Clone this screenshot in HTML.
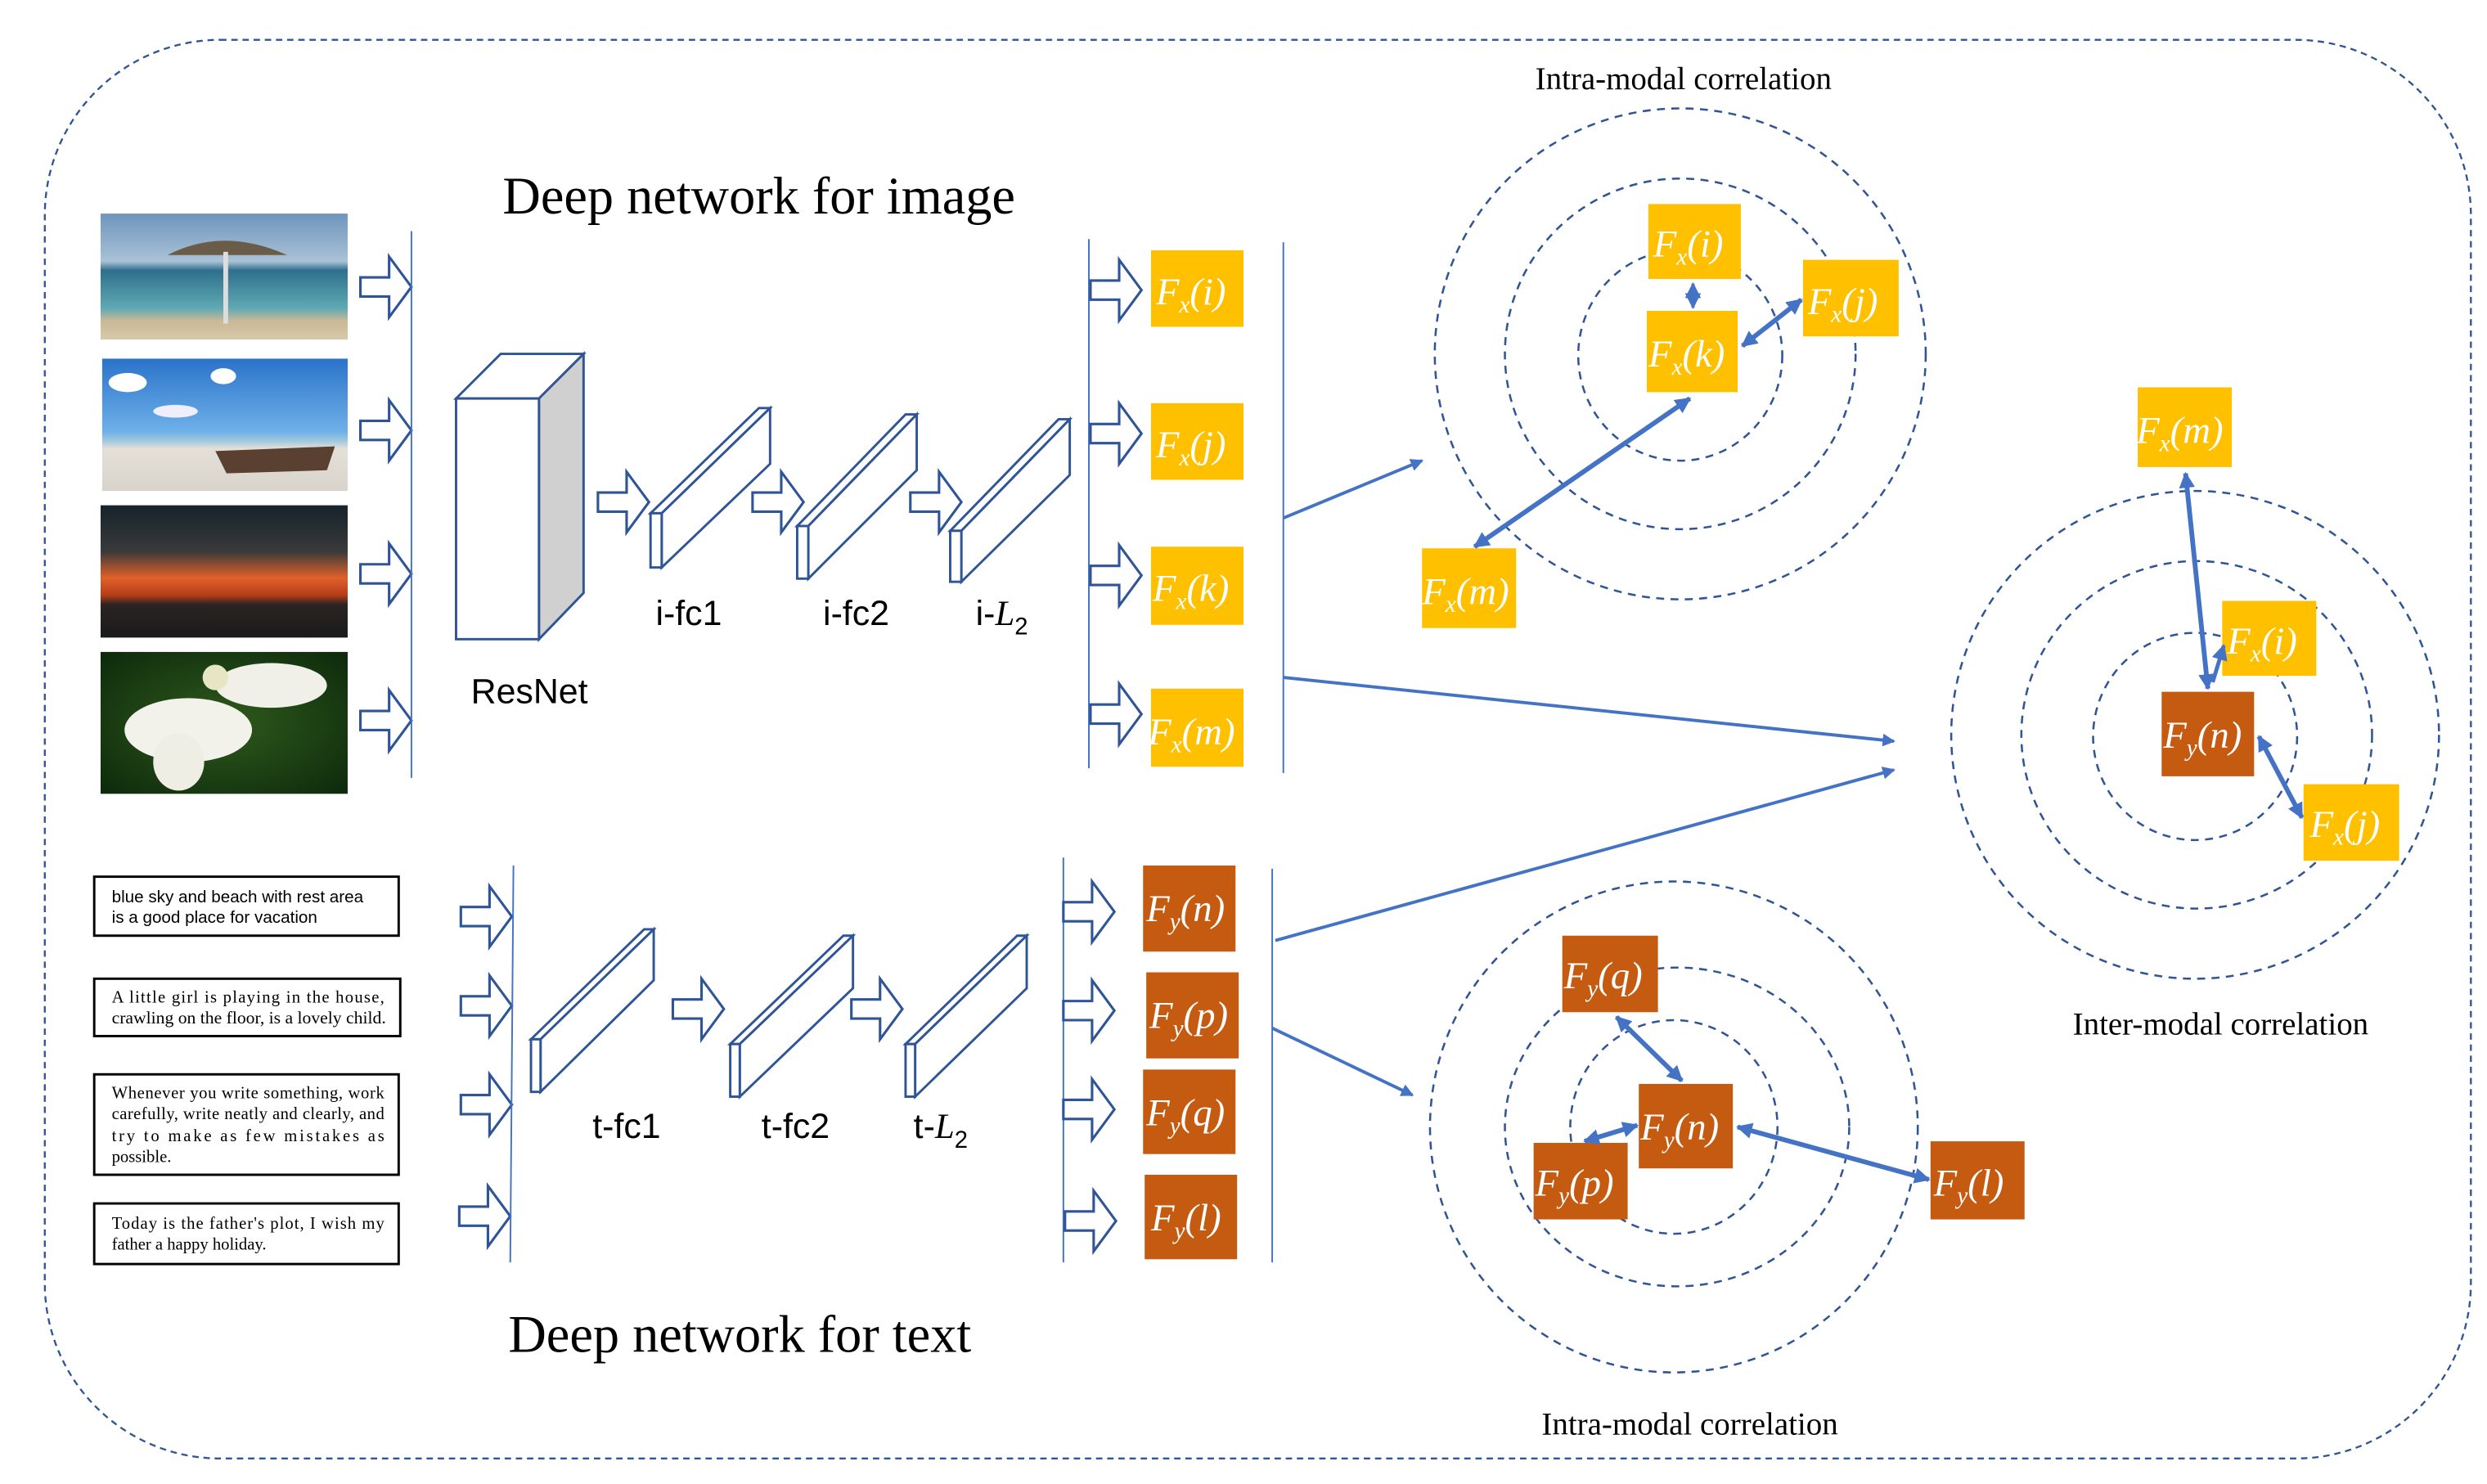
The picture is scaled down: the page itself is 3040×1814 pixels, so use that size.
<!DOCTYPE html>
<html><head><meta charset="utf-8">
<style>
html,body{margin:0;padding:0;background:#fff;}
svg{display:block;}
.m{font-family:"Liberation Serif",serif;font-style:italic;fill:#fff;font-size:24px;}
.s{font-size:15px;}
.lab{font-family:"Liberation Sans",sans-serif;font-size:22px;fill:#000;}
.ttl{font-family:"Liberation Serif",serif;font-size:33px;fill:#000;}
.cap{font-family:"Liberation Serif",serif;font-size:20px;fill:#000;}
.bx{font-size:10.6px;fill:#000;}
</style></head><body>
<svg width="3040" height="1814" viewBox="0 0 1560 931" xmlns="http://www.w3.org/2000/svg">
<defs>
<marker id="ah" markerWidth="8" markerHeight="8" refX="7" refY="4" orient="auto" markerUnits="userSpaceOnUse"><path d="M0,0 L8,4 L0,8 z" fill="#4472C4"/></marker>
<marker id="as" markerWidth="10" markerHeight="10" refX="9" refY="5" orient="auto-start-reverse" markerUnits="userSpaceOnUse"><path d="M0,0 L10,5 L0,10 z" fill="#4472C4"/></marker>
<g id="ha"><path d="M0,-6 L18,-6 L18,-19 L32,0 L18,19 L18,6 L0,6 Z" fill="#fff" stroke="#2F5597" stroke-width="1.6"/></g>
<linearGradient id="g1" x1="0" y1="0" x2="0" y2="1"><stop offset="0" stop-color="#6f95bd"/><stop offset="0.38" stop-color="#a9c2d6"/><stop offset="0.45" stop-color="#2f6f8c"/><stop offset="0.75" stop-color="#5ea9b4"/><stop offset="0.85" stop-color="#c9b896"/><stop offset="1" stop-color="#d8c9a8"/></linearGradient>
<linearGradient id="g2" x1="0" y1="0" x2="0" y2="1"><stop offset="0" stop-color="#2a73c9"/><stop offset="0.55" stop-color="#6eb0e8"/><stop offset="0.62" stop-color="#9ec7de"/><stop offset="0.68" stop-color="#e4e0d8"/><stop offset="1" stop-color="#d8d4cc"/></linearGradient>
<linearGradient id="g3" x1="0" y1="0" x2="0" y2="1"><stop offset="0" stop-color="#15232b"/><stop offset="0.35" stop-color="#3a3a3a"/><stop offset="0.55" stop-color="#e0602a"/><stop offset="0.68" stop-color="#b53d18"/><stop offset="0.75" stop-color="#2a2424"/><stop offset="1" stop-color="#1a1a1a"/></linearGradient>
<radialGradient id="g4" cx="0.5" cy="0.5" r="0.7"><stop offset="0" stop-color="#2f5a1c"/><stop offset="1" stop-color="#0d2a0c"/></radialGradient>
</defs>

<rect x="28" y="25" width="1522" height="890" rx="110" ry="110" fill="none" stroke="#2F5597" stroke-width="1.2" stroke-dasharray="4,3"/>

<rect x="63" y="134" width="155" height="79" fill="url(#g1)"/>
<path d="M105,160 Q140,142 180,160 Z" fill="#6a5c48"/><rect x="140" y="158" width="3" height="45" fill="#ddd"/>
<rect x="64" y="225" width="154" height="83" fill="url(#g2)"/>
<path d="M135,283 L210,280 L205,295 L142,297 Z" fill="#5a4030"/>
<ellipse cx="80" cy="240" rx="12" ry="6" fill="#fff"/><ellipse cx="140" cy="236" rx="8" ry="5" fill="#fff"/><ellipse cx="110" cy="258" rx="14" ry="4" fill="#eef"/>
<rect x="63" y="317" width="155" height="83" fill="url(#g3)"/>
<rect x="63" y="409" width="155" height="89" fill="url(#g4)"/>
<ellipse cx="118" cy="458" rx="40" ry="20" fill="#f2f2ea"/><ellipse cx="170" cy="430" rx="35" ry="14" fill="#f0f0e8"/><ellipse cx="112" cy="478" rx="16" ry="18" fill="#eeeee4"/><ellipse cx="135" cy="425" rx="8" ry="8" fill="#e6e6c4"/>

<use href="#ha" x="226" y="180"/><use href="#ha" x="226" y="270"/><use href="#ha" x="226" y="360"/><use href="#ha" x="226" y="452"/>
<line x1="258" y1="145" x2="258" y2="488" stroke="#4472C4" stroke-width="1"/>

<polygon points="286,250 314,222 366,222 338,250" fill="#fff" stroke="#2F5597" stroke-width="1.5"/>
<polygon points="338,250 366,222 366,372 338,401" fill="#d0d0d0" stroke="#2F5597" stroke-width="1.5"/>
<rect x="286" y="250" width="52" height="151" fill="#fff" stroke="#2F5597" stroke-width="1.5"/>
<text x="332" y="441" class="lab" text-anchor="middle">ResNet</text>

<g fill="#fff" stroke="#2F5597" stroke-width="1.5">
<polygon points="408,322 476,256 483,256 415,322"/><polygon points="415,322 483,256 483,291 415,356"/><rect x="408" y="322" width="7" height="34"/>
<polygon points="500,330 568,260 575,260 507,330"/><polygon points="507,330 575,260 575,295 507,363"/><rect x="500" y="330" width="7" height="33"/>
<polygon points="596,333 664,263 671,263 603,333"/><polygon points="603,333 671,263 671,298 603,365"/><rect x="596" y="333" width="7" height="32"/>
</g>
<use href="#ha" x="375" y="315"/><use href="#ha" x="472" y="315"/><use href="#ha" x="571" y="315"/>
<text x="432" y="392" class="lab" text-anchor="middle">i-fc1</text>
<text x="537" y="392" class="lab" text-anchor="middle">i-fc2</text>
<text x="612" y="392" class="lab">i-<tspan font-family="Liberation Serif" font-style="italic">L</tspan><tspan font-size="15" dy="6">2</tspan></text>

<line x1="683" y1="150" x2="683" y2="482" stroke="#4472C4" stroke-width="1"/>
<use href="#ha" x="684" y="182"/><use href="#ha" x="684" y="272"/><use href="#ha" x="684" y="361"/><use href="#ha" x="684" y="448"/>
<g fill="#FFC000">
<rect x="722" y="157" width="58" height="48"/><rect x="722" y="253" width="58" height="48"/><rect x="722" y="343" width="58" height="49"/><rect x="722" y="432" width="58" height="49"/>
</g>
<text x="725" y="191" class="m">F<tspan class="s" dy="5">x</tspan><tspan dy="-5">(i)</tspan></text>
<text x="725" y="287" class="m">F<tspan class="s" dy="5">x</tspan><tspan dy="-5">(j)</tspan></text>
<text x="723" y="377" class="m">F<tspan class="s" dy="5">x</tspan><tspan dy="-5">(k)</tspan></text>
<text x="720" y="467" class="m">F<tspan class="s" dy="5">x</tspan><tspan dy="-5">(m)</tspan></text>
<line x1="805" y1="152" x2="805" y2="485" stroke="#4472C4" stroke-width="1"/>
<text x="476" y="134" class="ttl" text-anchor="middle">Deep network for image</text>

<g fill="#fff" stroke="#000" stroke-width="1.5">
<rect x="59" y="550" width="191" height="37"/><rect x="59" y="614" width="192" height="36"/><rect x="59" y="674" width="191" height="63"/><rect x="59" y="755" width="191" height="38"/>
</g>
<g font-family="Liberation Sans">
<text x="70" y="566" class="bx">blue sky and beach with rest area</text>
<text x="70" y="579" class="bx">is a good place for vacation</text>
</g>
<g font-family="Liberation Serif">
<text x="70" y="629" class="bx" textLength="171" lengthAdjust="spacing">A little girl is playing in the house,</text>
<text x="70" y="642" class="bx" textLength="172" lengthAdjust="spacingAndGlyphs">crawling on the floor, is a lovely child.</text>
<text x="70" y="689" class="bx" textLength="171" lengthAdjust="spacing">Whenever you write something, work</text>
<text x="70" y="702" class="bx" textLength="171" lengthAdjust="spacing">carefully, write neatly and clearly, and</text>
<text x="70" y="716" class="bx" textLength="171" lengthAdjust="spacing">try to make as few mistakes as</text>
<text x="70" y="729" class="bx">possible.</text>
<text x="70" y="771" class="bx" textLength="171" lengthAdjust="spacing">Today is the father's plot, I wish my</text>
<text x="70" y="784" class="bx">father a happy holiday.</text>
</g>
<use href="#ha" x="289" y="575"/><use href="#ha" x="289" y="631"/><use href="#ha" x="289" y="693"/><use href="#ha" x="288" y="763"/>
<line x1="322" y1="543" x2="320" y2="792" stroke="#4472C4" stroke-width="1"/>
<g fill="#fff" stroke="#2F5597" stroke-width="1.5">
<polygon points="333,652 404,583 410,583 339,652"/><polygon points="339,652 410,583 410,615 339,685"/><rect x="333" y="652" width="6" height="33"/>
<polygon points="458,655 529,587 535,587 464,655"/><polygon points="464,655 535,587 535,620 464,688"/><rect x="458" y="655" width="6" height="33"/>
<polygon points="568,655 638,587 644,587 574,655"/><polygon points="574,655 644,587 644,620 574,688"/><rect x="568" y="655" width="6" height="33"/>
</g>
<use href="#ha" x="422" y="633"/><use href="#ha" x="534" y="633"/>
<text x="393" y="714" class="lab" text-anchor="middle">t-fc1</text>
<text x="499" y="714" class="lab" text-anchor="middle">t-fc2</text>
<text x="573" y="714" class="lab">t-<tspan font-family="Liberation Serif" font-style="italic">L</tspan><tspan font-size="15" dy="6">2</tspan></text>
<line x1="667" y1="538" x2="667" y2="792" stroke="#4472C4" stroke-width="1"/>
<use href="#ha" x="667" y="572"/><use href="#ha" x="667" y="634"/><use href="#ha" x="667" y="696"/><use href="#ha" x="668" y="766"/>
<g fill="#C55A11">
<rect x="717" y="543" width="58" height="54"/><rect x="719" y="610" width="58" height="54"/><rect x="717" y="671" width="58" height="53"/><rect x="718" y="737" width="58" height="53"/>
</g>
<text x="719" y="578" class="m">F<tspan class="s" dy="5">y</tspan><tspan dy="-5">(n)</tspan></text>
<text x="721" y="645" class="m">F<tspan class="s" dy="5">y</tspan><tspan dy="-5">(p)</tspan></text>
<text x="719" y="706" class="m">F<tspan class="s" dy="5">y</tspan><tspan dy="-5">(q)</tspan></text>
<text x="722" y="772" class="m">F<tspan class="s" dy="5">y</tspan><tspan dy="-5">(l)</tspan></text>
<line x1="798" y1="545" x2="798" y2="792" stroke="#4472C4" stroke-width="1"/>
<text x="464" y="848" class="ttl" text-anchor="middle">Deep network for text</text>

<g stroke="#4472C4" stroke-width="2" fill="none">
<line x1="805" y1="325" x2="892" y2="289" marker-end="url(#ah)"/>
<line x1="805" y1="425" x2="1188" y2="465" marker-end="url(#ah)"/>
<line x1="800" y1="590" x2="1188" y2="483" marker-end="url(#ah)"/>
<line x1="798" y1="645" x2="886" y2="687" marker-end="url(#ah)"/>
</g>

<g fill="none" stroke="#2F5597" stroke-width="1.3" stroke-dasharray="5,4">
<ellipse cx="1054" cy="223" rx="64" ry="66"/><ellipse cx="1054" cy="222" rx="110" ry="110"/><ellipse cx="1054" cy="222" rx="154" ry="154"/>
<ellipse cx="1377" cy="462" rx="64" ry="65"/><ellipse cx="1378" cy="461" rx="110" ry="109"/><ellipse cx="1377" cy="461" rx="153" ry="153"/>
<ellipse cx="1050" cy="707" rx="65" ry="67"/><ellipse cx="1052" cy="707" rx="108" ry="100"/><ellipse cx="1050" cy="707" rx="153" ry="154"/>
</g>

<g fill="#FFC000">
<rect x="1034" y="128" width="58" height="47"/><rect x="1033" y="195" width="57" height="51"/><rect x="1131" y="163" width="60" height="48"/><rect x="892" y="344" width="59" height="50"/>
</g>
<text x="1037" y="161" class="m">F<tspan class="s" dy="5">x</tspan><tspan dy="-5">(i)</tspan></text>
<text x="1034" y="230" class="m">F<tspan class="s" dy="5">x</tspan><tspan dy="-5">(k)</tspan></text>
<text x="1134" y="197" class="m">F<tspan class="s" dy="5">x</tspan><tspan dy="-5">(j)</tspan></text>
<text x="892" y="379" class="m">F<tspan class="s" dy="5">x</tspan><tspan dy="-5">(m)</tspan></text>
<g stroke="#4472C4" stroke-width="3" fill="none">
<line x1="1062" y1="178" x2="1062" y2="193" marker-start="url(#as)" marker-end="url(#as)" stroke-width="2"/>
<line x1="1093" y1="217" x2="1130" y2="188" marker-start="url(#as)" marker-end="url(#as)"/>
<line x1="1060" y1="250" x2="925" y2="343" marker-start="url(#as)" marker-end="url(#as)"/>
</g>
<text x="1056" y="56" class="cap" text-anchor="middle">Intra-modal correlation</text>

<rect x="1341" y="243" width="59" height="50" fill="#FFC000"/>
<rect x="1394" y="377" width="59" height="47" fill="#FFC000"/>
<rect x="1445" y="492" width="60" height="48" fill="#FFC000"/>
<rect x="1356" y="434" width="58" height="53" fill="#C55A11"/>
<text x="1340" y="278" class="m">F<tspan class="s" dy="5">x</tspan><tspan dy="-5">(m)</tspan></text>
<text x="1397" y="410" class="m">F<tspan class="s" dy="5">x</tspan><tspan dy="-5">(i)</tspan></text>
<text x="1449" y="525" class="m">F<tspan class="s" dy="5">x</tspan><tspan dy="-5">(j)</tspan></text>
<text x="1357" y="469" class="m">F<tspan class="s" dy="5">y</tspan><tspan dy="-5">(n)</tspan></text>
<g stroke="#4472C4" stroke-width="3" fill="none">
<line x1="1371" y1="297" x2="1385" y2="432" marker-start="url(#as)" marker-end="url(#as)"/>
<line x1="1388" y1="428" x2="1395" y2="405" marker-end="url(#as)" stroke-width="2.5"/>
<line x1="1417" y1="462" x2="1444" y2="513" marker-start="url(#as)" marker-end="url(#as)"/>
</g>
<text x="1393" y="649" class="cap" text-anchor="middle">Inter-modal correlation</text>

<g fill="#C55A11">
<rect x="980" y="587" width="60" height="48"/><rect x="1028" y="680" width="59" height="53"/><rect x="962" y="717" width="59" height="48"/><rect x="1211" y="716" width="59" height="49"/>
</g>
<text x="981" y="620" class="m">F<tspan class="s" dy="5">y</tspan><tspan dy="-5">(q)</tspan></text>
<text x="1029" y="715" class="m">F<tspan class="s" dy="5">y</tspan><tspan dy="-5">(n)</tspan></text>
<text x="963" y="750" class="m">F<tspan class="s" dy="5">y</tspan><tspan dy="-5">(p)</tspan></text>
<text x="1213" y="750" class="m">F<tspan class="s" dy="5">y</tspan><tspan dy="-5">(l)</tspan></text>
<g stroke="#4472C4" stroke-width="3" fill="none">
<line x1="1014" y1="638" x2="1055" y2="678" marker-start="url(#as)" marker-end="url(#as)"/>
<line x1="994" y1="716" x2="1027" y2="706" marker-start="url(#as)" marker-end="url(#as)"/>
<line x1="1090" y1="707" x2="1210" y2="740" marker-start="url(#as)" marker-end="url(#as)"/>
</g>
<text x="1060" y="900" class="cap" text-anchor="middle">Intra-modal correlation</text>
</svg>
</body></html>
